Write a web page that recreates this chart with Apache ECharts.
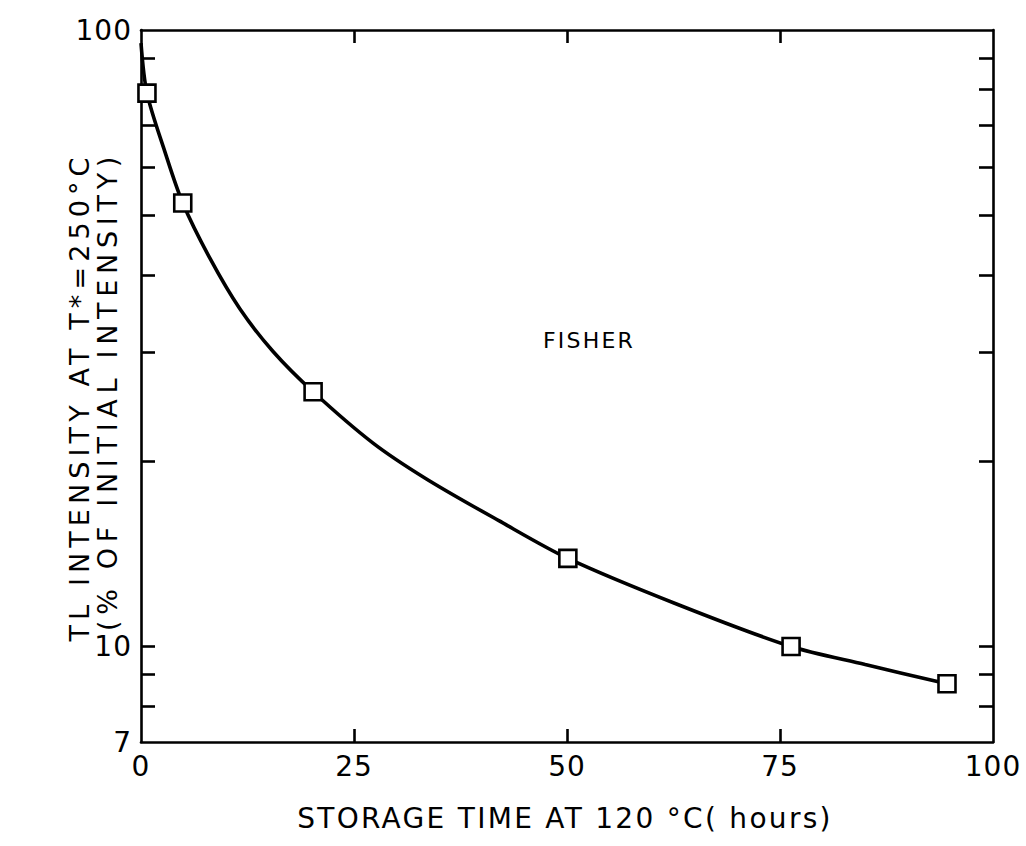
<!DOCTYPE html>
<html>
<head>
<meta charset="utf-8">
<script src="https://cdn.jsdelivr.net/npm/echarts@6/dist/echarts.min.js"></script>
<style>
html,body{margin:0;padding:0;background:#fff;}
#chart{width:1026px;height:846px;}
</style>
</head>
<body>
<div id="chart"></div>
<script>
// Measured points (storage time in hours, TL intensity in % of initial)
var pointTimes = [0.7, 4.9, 20.2, 50.1, 76.3, 94.6];
var pointValues = [79, 52.4, 25.9, 13.9, 10.0, 8.7];
// Drawn smooth curve
var curveTimes = [0, 0.7, 2.8, 4.9, 8.1, 11.6, 15.5, 20.2, 27.2, 33.5, 42, 50.1, 63, 76.3, 85, 94.6];
var curveValues = [95.2, 79, 63.5, 52.4, 42.6, 35.3, 30.1, 25.9, 21.4, 18.7, 16.0, 13.9, 11.7, 10.0, 9.35, 8.7];
// Axis ticks / labels
var xLabelValues = [0, 25, 50, 75, 100];
var xTickValues = [25, 50, 75];
var yLabelValues = [7, 10, 100];
var yTickValues = [8, 9, 10, 20, 30, 40, 50, 60, 70, 80, 90];

var FONT = 'DejaVu Sans';
var TITLE_X = 'STORAGE TIME AT 120 °C( hours)';
var TITLE_Y1 = 'TL INTENSITY AT T*=250°C';
var TITLE_Y2 = '(% OF INITIAL INTENSITY)';
var NOTE = 'FISHER';
var spacing = {};
spacing[TITLE_X] = 2.3;
spacing[TITLE_Y1] = 5.1;
spacing[TITLE_Y2] = 5.7;
spacing[NOTE] = 2.2;

var chart = echarts.init(document.getElementById('chart'), null, {renderer: 'svg'});

function zip(a, b) { return a.map(function (v, i) { return [v, b[i]]; }); }

var axisLineStyle = {color: '#000', width: 2.6};
var tickStyle = {color: '#000', width: 2.6};
var xCommon = {
  type: 'value', min: 0, max: 100, interval: 25,
  splitLine: {show: false},
  axisLine: {show: true, onZero: false, lineStyle: axisLineStyle}
};
var yCommon = {
  type: 'log', logBase: 10, min: 7, max: 100,
  splitLine: {show: false}, minorTick: {show: false},
  axisLine: {show: true, onZero: false, lineStyle: axisLineStyle}
};

chart.setOption({
  animation: false,
  backgroundColor: '#fff',
  grid: {left: 141, top: 30, width: 852, height: 712, containLabel: false},
  xAxis: [
    Object.assign({}, xCommon, {
      position: 'bottom',
      axisTick: {show: true, inside: true, length: 13, lineStyle: tickStyle, customValues: xTickValues},
      axisLabel: {show: true, margin: 10, color: '#000', fontFamily: FONT, fontSize: 28,
        customValues: xLabelValues}
    }),
    Object.assign({}, xCommon, {
      position: 'top',
      axisTick: {show: true, inside: true, length: 13, lineStyle: tickStyle, customValues: xTickValues},
      axisLabel: {show: false}
    })
  ],
  yAxis: [
    Object.assign({}, yCommon, {
      position: 'left',
      axisTick: {show: true, inside: true, length: 14, lineStyle: tickStyle, customValues: yTickValues},
      axisLabel: {show: true, margin: 9, color: '#000', fontFamily: FONT, fontSize: 28,
        customValues: yLabelValues, formatter: function (v) { return String(Math.round(v)); }}
    }),
    Object.assign({}, yCommon, {
      position: 'right',
      axisTick: {show: true, inside: true, length: 14, lineStyle: tickStyle, customValues: yTickValues},
      axisLabel: {show: false}
    })
  ],
  graphic: [
    {type: 'text', x: 589, y: 340, style: {text: NOTE, fontFamily: FONT, fontSize: 22, fill: '#000',
      align: 'center', verticalAlign: 'middle'}},
    {type: 'text', x: 565, y: 818, style: {text: TITLE_X, fontFamily: FONT, fontSize: 28,
      fill: '#000', align: 'center', verticalAlign: 'middle'}},
    {type: 'text', x: 79, y: 397, rotation: Math.PI / 2, style: {text: TITLE_Y1, fontFamily: FONT,
      fontSize: 27, fill: '#000', align: 'center', verticalAlign: 'middle'}},
    {type: 'text', x: 107, y: 391, rotation: Math.PI / 2, style: {text: TITLE_Y2, fontFamily: FONT,
      fontSize: 27, fill: '#000', align: 'center', verticalAlign: 'middle'}}
  ],
  series: [
    {
      type: 'line', name: 'curve', data: zip(curveTimes, curveValues),
      smooth: 0.3, showSymbol: false, symbol: 'none',
      lineStyle: {color: '#000', width: 3.6}, z: 2
    },
    {
      type: 'scatter', name: 'FISHER', data: zip(pointTimes, pointValues),
      symbol: 'rect', symbolSize: 17,
      itemStyle: {color: '#fff', borderColor: '#000', borderWidth: 2.6, opacity: 1}, z: 3
    }
  ]
});

function applySpacing() {
  var nodes = document.querySelectorAll('#chart text');
  for (var i = 0; i < nodes.length; i++) {
    var t = nodes[i].textContent;
    if (spacing.hasOwnProperty(t)) {
      nodes[i].setAttribute('letter-spacing', spacing[t] + 'px');
    } else {
      nodes[i].setAttribute('letter-spacing', '1px');
    }
  }
}
applySpacing();
chart.on('finished', applySpacing);
</script>
</body>
</html>
